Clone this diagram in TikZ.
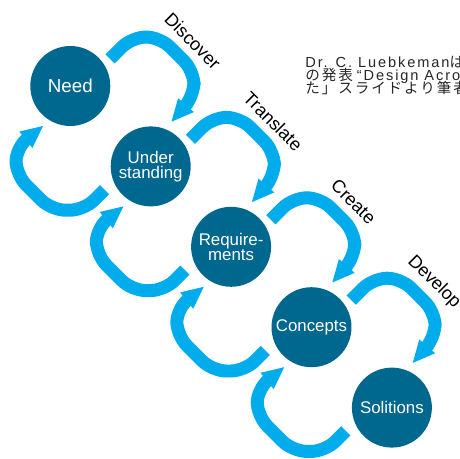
\documentclass[tikz,border=0pt]{standalone}
\usepackage{fontspec}
\setmainfont{Liberation Sans}
\newfontfamily\notefont[LetterSpace=13]{Liberation Sans}
\newfontfamily\jpfont[LetterSpace=13]{Noto Sans CJK JP}
\usetikzlibrary{arrows.meta}
\definecolor{flowcyan}{RGB}{0,172,236}
\definecolor{stageblue}{RGB}{0,103,142}
\tikzset{
	stage/.style={circle, fill=stageblue, text=white, minimum size=1.6cm, inner sep=0pt, align=center, font=\fontsize{9.6}{8.6}\selectfont},
	flow/.style={draw=flowcyan, line width=0.26cm, rounded corners=0.28cm, -{Triangle[width=0.42cm, length=0.44cm, line width=0pt]}},
	verb/.style={rotate=-45, inner sep=0pt, font=\fontsize{10.3}{11}\selectfont},
	note/.style={anchor=base west, inner sep=0pt, text=black!85, font=\fontsize{8.3}{8.3}\selectfont}
}

\begin{document}
\begin{tikzpicture}[x=0.02cm, y=-0.02cm]
			\def \hor{ 80.4 };
			\def \ver{ 80.4 };
			\useasboundingbox (0,0) rectangle (460,459);
			\clip (0,0) rectangle (460,459);
			\node[stage, font=\fontsize{10.7}{12}\selectfont] (need) at (70.3+0*\hor,86+0*\ver) {Need};
			\node[stage] (under) at (70.3+1*\hor,86+1*\ver) {Under\\standing};
			\node[stage] (req) at (70.3+2*\hor,86+2*\ver) {Require-\\ments};
			\node[stage] (concept) at (70.3+3*\hor,86+3*\ver) {Concepts};
			\node[stage] (sol) at (70.3+4*\hor,86+4*\ver) {Solitions};
			\foreach \a/\b/\word in {need/under/Discover, under/req/Translate, req/concept/Create, concept/sol/Develop} {
				% forward loop over the top, back loop underneath
				\draw[flow] ([shift={(39.7,-27)}]\a.center) -- ([shift={(61.7,-49)}]\a.center) -- ([shift={(89.7,-49)}]\a.center)
					-- ([shift={(123.7,-15)}]\a.center) -- ([shift={(123.7,10)}]\a.center) -- ([shift={(20.8,-44.7)}]\b.center);
				\draw[flow] ([shift={(-46.2,23.3)}]\b.center) -- ([shift={(-66.7,43.8)}]\b.center) -- ([shift={(-99.2,43.8)}]\b.center)
					-- ([shift={(-134.7,8.3)}]\b.center) -- ([shift={(-134.7,-18.7)}]\b.center) -- ([shift={(-27.3,40)}]\a.center);
				\node[verb] (verb-\a) at ([shift={(122.5,-45)}]\a.center) {\word};
			}
			\node[note] (note1) at (305,67.5) {{\notefont Dr. C. Luebkeman}{\jpfont は}};
			\node[note] (note2) at (305,80.5) {{\jpfont の発表} {\notefont “Design Acro}};
			\node[note] (note3) at (305,93.5) {{\jpfont た」スライドより筆者}};
		\end{tikzpicture}
\end{document}
